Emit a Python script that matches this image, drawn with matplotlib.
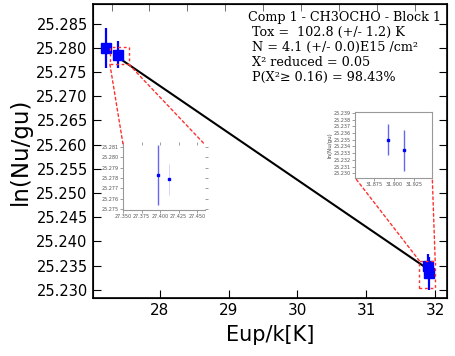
import numpy as np
import matplotlib
matplotlib.use('Agg')
import matplotlib.pyplot as plt
from matplotlib.patches import Rectangle, ConnectionPatch

# main plot points (as drawn)
eup_b1 = [27.22, 27.39]
lnn_b1 = [25.2800, 25.2786]
err_b1 = [0.0041, 0.0028]

eup_b2 = [31.893, 31.913]
lnn_b2 = [25.2350, 25.2334]
err_b2 = [0.0023, 0.0034]

# zoom view of block near 27.4
eup_z1 = [27.3975, 27.4117]
lnn_z1 = [25.2783, 25.2779]
err_z1 = [0.0029, 0.0015]

# fit
tox = 102.8
fit_x = [27.39, 31.90]
fit_y0 = 25.2781   # value at fit_x[0]

txt = ["Comp 1 - CH3OCHO - Block 1",
       " Tox =  102.8 (+/- 1.2) K",
       " N = 4.1 (+/- 0.0)E15 /cm\u00b2",
       " X\u00b2 reduced = 0.05",
       " P(X\u00b2\u2265 0.16) = 98.43%"]

yticks = [25.230, 25.235, 25.240, 25.245, 25.250, 25.255, 25.260,
          25.265, 25.270, 25.275, 25.280, 25.285]
xticks = [28, 29, 30, 31, 32]

fig = plt.figure(figsize=(4.56, 3.56), dpi=100)
ax = fig.add_axes([0.203, 0.163, 0.777, 0.826])

fx = np.array(fit_x)
fy = fit_y0 - (fx - fx[0]) / tox
ax.plot(fx, fy, color='black', lw=1.5, zorder=2)

for x, y, e in [(eup_b1, lnn_b1, err_b1), (eup_b2, lnn_b2, err_b2)]:
    ax.errorbar(x, y, yerr=e, fmt='s', color='blue', ms=6.5, elinewidth=1.6,
                capsize=0, zorder=3)

ax.set_xlim(27.025, 32.17)
ax.set_ylim(25.2283, 25.2891)
ax.set_xticks(xticks)
ax.set_yticks(yticks)
ax.yaxis.set_major_formatter(matplotlib.ticker.FormatStrFormatter('%.3f'))
ax.tick_params(direction='in', length=6, labelsize=11, right=True, width=0.8)
ax.tick_params(axis='y', labelsize=10.5)
ax.set_xlabel('Eup/k[K]', fontsize=15, labelpad=5)
ax.set_ylabel('ln(Nu/gu)', fontsize=16.5, labelpad=3)
for s in ax.spines.values():
    s.set_linewidth(1.2)

# top ticks (odd spacing in original)
axt = ax.twiny()
axt.set_xlim(ax.get_xlim())
axt.set_xticks([27.30, 27.85, 28.40, 28.95, 29.50, 30.05, 30.60, 31.15, 31.70])
axt.tick_params(direction='in', length=5, labeltop=False, width=0.6, color='#555555')

for i, line in enumerate(txt):
    ax.text(0.438, 0.975 - i * 0.051, line, transform=ax.transAxes,
            family='DejaVu Serif', fontsize=9.2, va='top', ha='left')

red = '#ff3030'
ls = (0, (2, 2))

# zoom boxes
r1 = (27.277, 25.2766, 27.553 - 27.277, 25.2802 - 25.2766)
r2 = (31.77, 25.2304, 32.0 - 31.77, 25.2360 - 25.2304)
for r in (r1, r2):
    ax.add_patch(Rectangle((r[0], r[1]), r[2], r[3], fill=False, ec=red,
                           ls=ls, lw=1, zorder=4))

# inset 1
in1 = fig.add_axes([0.270, 0.410, 0.180, 0.183])
in1.errorbar(eup_z1[:1], lnn_z1[:1], yerr=err_z1[:1], fmt='s', color='blue',
             ecolor='#6666ee', ms=2, elinewidth=1, capsize=0)
in1.errorbar(eup_z1[1:], lnn_z1[1:], yerr=err_z1[1:], fmt='s', color='blue',
             ecolor='#ccccff', ms=2, elinewidth=0.6, capsize=0, ls='none')
in1.set_xlim(27.351, 27.461)
in1.set_ylim(25.2749, 25.2812)
in1.set_xticks([27.350, 27.375, 27.400, 27.425, 27.450])
in1.set_yticks([25.275, 25.276, 25.277, 25.278, 25.279, 25.280, 25.281])
in1.xaxis.set_major_formatter(matplotlib.ticker.FormatStrFormatter('%.3f'))
in1.yaxis.set_major_formatter(matplotlib.ticker.FormatStrFormatter('%.3f'))
in1.tick_params(labelsize=3.5, length=2, width=0.4, pad=1, colors='#555555',
                top=True, right=True, direction='out')
in1.spines['top'].set_visible(False)
in1.spines['right'].set_visible(False)
for s in ('left', 'bottom'):
    in1.spines[s].set_color('#999999')
    in1.spines[s].set_linewidth(0.8)

# inset 2
in2 = fig.add_axes([0.779, 0.500, 0.169, 0.185])
in2.errorbar(eup_b2, lnn_b2, yerr=[0.0023, 0.0030], fmt='s', color='blue',
             ecolor='#6666ee', ms=2, elinewidth=1, capsize=0)
in2.set_xlim(31.852, 31.948)
in2.set_ylim(25.2293, 25.2391)
in2.set_xticks([31.875, 31.900, 31.925])
in2.set_yticks([25.230, 25.231, 25.232, 25.233, 25.234, 25.235, 25.236,
                25.237, 25.238, 25.239])
in2.xaxis.set_major_formatter(matplotlib.ticker.FormatStrFormatter('%.3f'))
in2.yaxis.set_major_formatter(matplotlib.ticker.FormatStrFormatter('%.3f'))
in2.tick_params(labelsize=3.5, length=2, width=0.4, pad=1, colors='#555555')
in2.set_ylabel('ln(Nu/gu)', fontsize=4, labelpad=1, color='#444444')
for s in in2.spines.values():
    s.set_color('#999999')
    s.set_linewidth(0.8)

# connectors
cons = [((r1[0], r1[1]), in1, (0, 1)),
        ((r1[0] + r1[2], r1[1]), in1, (1, 1)),
        ((r2[0], r2[1] + r2[3]), in2, (0, 0)),
        ((r2[0] + r2[2], r2[1] + r2[3]), in2, (1, 0))]
for xy, ins, corner in cons:
    cp = ConnectionPatch(xyA=xy, coordsA=ax.transData, xyB=corner,
                         coordsB=ins.transAxes, color=red, ls=ls, lw=1)
    fig.add_artist(cp)

fig.savefig('out.png', dpi=100)
